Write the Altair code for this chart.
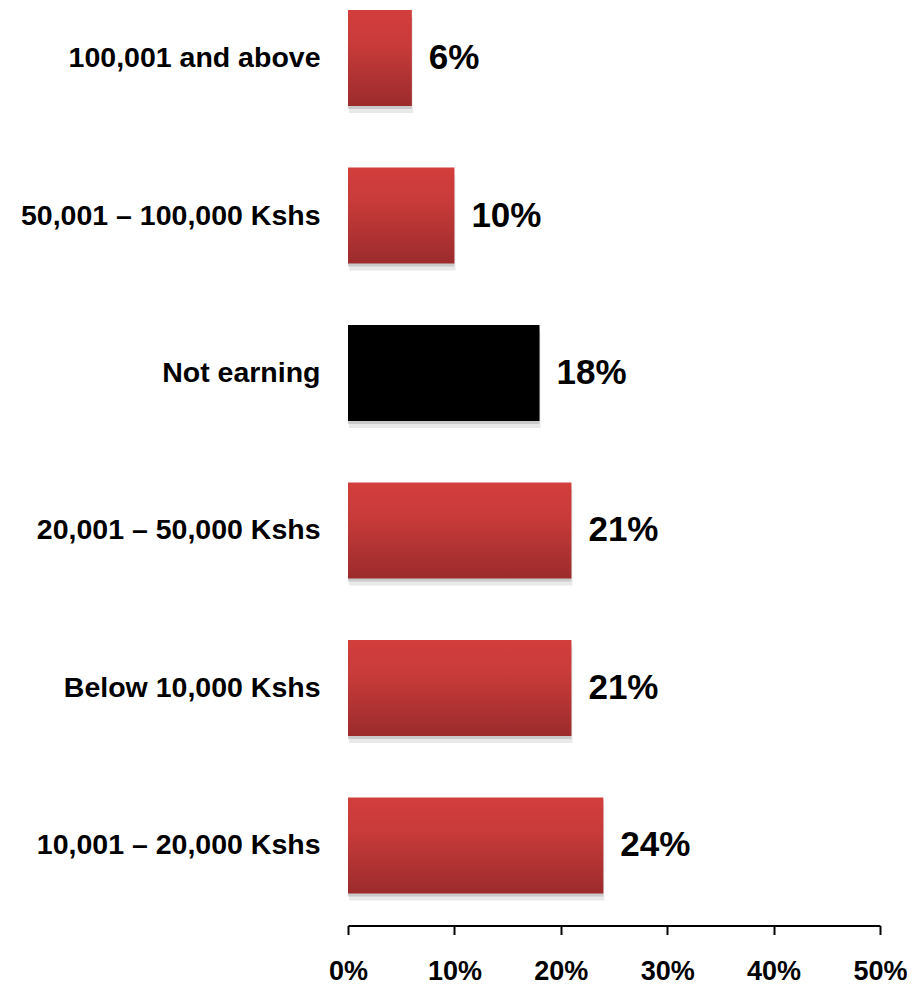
import altair as alt
import pandas as pd

categories = [
    "100,001 and above",
    "50,001 – 100,000 Kshs",
    "Not earning",
    "20,001 – 50,000 Kshs",
    "Below 10,000  Kshs",
    "10,001 – 20,000 Kshs",
]
shares = [0.06, 0.10, 0.18, 0.21, 0.21, 0.24]
value_labels = ["6%", "10%", "18%", "21%", "21%", "24%"]
is_black = [False, False, True, False, False, False]
tick_values = [0.0, 0.1, 0.2, 0.3, 0.4, 0.5]

df = pd.DataFrame({
    "category": categories,
    "share": shares,
    "label": value_labels,
    "black": is_black,
})

FONT = "Liberation Sans"

y_enc = alt.Y(
    "category:N",
    sort=categories,
    scale=alt.Scale(paddingInner=0.39, paddingOuter=0.013),
    axis=alt.Axis(
        title=None, domain=False, ticks=False,
        labelFont=FONT, labelFontSize=28.5, labelFontWeight="bold",
        labelColor="black", labelPadding=28, labelLimit=400,
    ),
)
x_enc = alt.X(
    "share:Q",
    scale=alt.Scale(domain=[0, 0.5]),
    axis=alt.Axis(
        title=None, format=".0%", values=tick_values, grid=False,
        domainColor="black", domainWidth=2, tickColor="black", tickWidth=2,
        tickSize=9, labelFont=FONT, labelFontSize=27, labelFontWeight="bold",
        labelColor="black", labelPadding=24, offset=30, labelFlush=False,
    ),
)

base = alt.Chart(df).encode(x=x_enc, y=y_enc)

shadow_far = base.mark_bar(color="#DADADA", opacity=0.6, yOffset=7, xOffset=1, x2Offset=4)
shadow_near = base.mark_bar(color="#B5B5B5", opacity=0.6, yOffset=3, x2Offset=2)

red_gradient = alt.Gradient(
    gradient="linear",
    stops=[
        alt.GradientStop(color="#D23E3C", offset=0),
        alt.GradientStop(color="#C83B3A", offset=0.35),
        alt.GradientStop(color="#9C2B2C", offset=1),
    ],
    x1=0, x2=0, y1=0, y2=1,
)

red_bars = base.mark_bar(color=red_gradient).transform_filter("!datum.black")
black_bars = base.mark_bar(color="#000000").transform_filter("datum.black")

text = base.mark_text(
    align="left", baseline="middle", dx=17, font=FONT, fontSize=35,
    fontWeight="bold", color="black",
).encode(text="label:N")

chart = (
    alt.layer(shadow_far, shadow_near, red_bars, black_bars, text)
    .properties(
        width=532,
        height=887.5,
        autosize=alt.AutoSizeParams(type="none"),
        padding={"left": 340, "top": 0, "right": 27, "bottom": 90},
        background="white",
    )
    .configure_view(stroke=None)
)

chart.save("out.html", embed_options={"renderer": "svg", "actions": False})
